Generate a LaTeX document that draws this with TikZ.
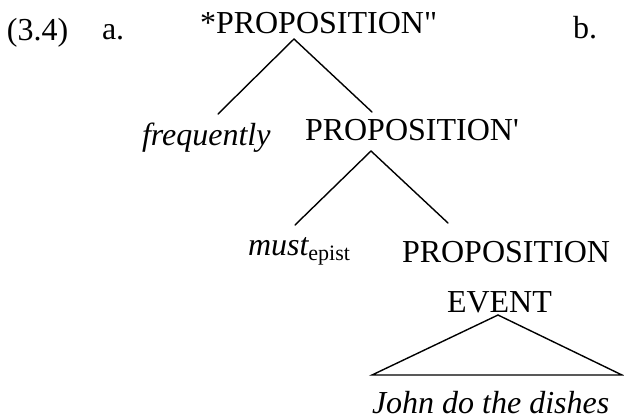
\documentclass[tikz,border=0pt]{standalone}
\usepackage{fontspec}
\newfontfamily\tms{Liberation Serif}
\begin{document}
\begin{tikzpicture}[x=0.75pt,y=-0.75pt,
  lbl/.style={anchor=base west,inner sep=0pt,outer sep=0pt,font=\tms\fontsize{24pt}{28pt}\selectfont},
  itl/.style={lbl,font=\tms\itshape\fontsize{24pt}{28pt}\selectfont},
  edge/.style={line width=1.05pt,line cap=round,line join=miter}]
\path[use as bounding box,fill=white] (0,0) rectangle (624,419);
% labels
\node[lbl] (num) at (7,40) {(3.4)};
\node[lbl] (a) at (102,39) {a.};
\node[lbl] (b) at (573,38) {b.};
% tree nodes
\node[lbl] (top) at (200,33) {*PROPOSITION"};
\node[itl] (freq) at (142,145) {frequently};
\node[lbl] (mid) at (305,140) {PROPOSITION'};
\node[lbl] (must) at (248,255) {{\itshape must}\raisebox{-3.8pt}{\upshape\fontsize{16.5pt}{18pt}\selectfont epist}};
\node[lbl] (low) at (402,262) {PROPOSITION};
\node[lbl] (ev) at (447,312) {EVENT};
\node[itl] (john) at (372,413) {John do the dishes};
% connector ends
\coordinate (topA) at (294,39);
\coordinate (freqE) at (218,114);
\coordinate (midE) at (372,112);
\coordinate (midA) at (371,151);
\coordinate (mustE) at (295,225);
\coordinate (lowE) at (448,223);
\coordinate (evA) at (498,315);
\coordinate (triL) at (372,375);
\coordinate (triR) at (622,375);
\draw[edge] (freqE) -- (topA) -- (midE);
\draw[edge] (mustE) -- (midA) -- (lowE);
\draw[edge] (evA) -- (triL) -- (triR) -- cycle;
\end{tikzpicture}
\end{document}
